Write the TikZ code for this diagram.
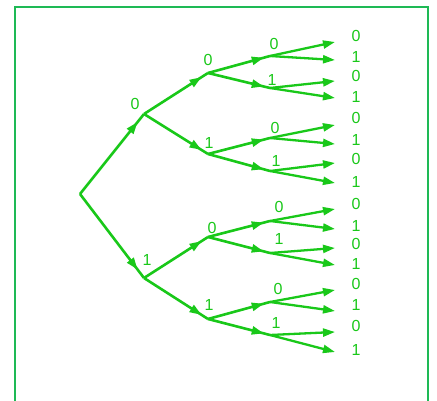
\documentclass[tikz,border=0pt]{standalone}
\usepackage{fontspec}
\setmainfont{Liberation Sans}
\usetikzlibrary{arrows.meta,decorations.markings}
\definecolor{treegreen}{RGB}{25,200,25}
\definecolor{boxgreen}{RGB}{30,185,85}
\begin{document}
\begin{tikzpicture}[x=1pt,y=-1pt,
  branch/.style={treegreen,line width=2.6pt,postaction={decorate},
    decoration={markings,mark=at position .9 with {\arrow{Triangle[length=12pt,width=8pt]}}}},
  leaf/.style={treegreen,line width=2.3pt,-{Triangle[length=12pt,width=8pt]}},
  bit/.style={text=treegreen,inner sep=0pt,font=\fontsize{16}{18}\selectfont}]
\path[use as bounding box] (0,0) rectangle (437,401);
\draw[boxgreen,line width=2.4pt] (15,420)--(15,7)--(428,7)--(428,420);
% nodes of the tree
\coordinate (r) at (80,194);
\coordinate (a0) at (144,114);
\coordinate (a1) at (144,278);
\coordinate (b00) at (208,73);
\coordinate (b01) at (208,154);
\coordinate (b10) at (208,237);
\coordinate (b11) at (208,319);
\coordinate (c000) at (270,56);
\coordinate (c001) at (270,88);
\coordinate (c010) at (270,138);
\coordinate (c011) at (270,171);
\coordinate (c100) at (270,221);
\coordinate (c101) at (270,253);
\coordinate (c110) at (270,302);
\coordinate (c111) at (270,335);
\foreach \n/\y in {1/42,2/60,3/81,4/98,5/125,6/144,7/163,8/183,9/209,10/229,11/248,12/265,13/290,14/311,15/332,16/352}
  \coordinate (l\n) at (335,\y);
% branches
\draw[branch] (r)--(a0);
\draw[branch] (r)--(a1);
\draw[branch] (a0)--(b00);
\draw[branch] (a0)--(b01);
\draw[branch] (a1)--(b10);
\draw[branch] (a1)--(b11);
\draw[branch] (b00)--(c000);
\draw[branch] (b00)--(c001);
\draw[branch] (b01)--(c010);
\draw[branch] (b01)--(c011);
\draw[branch] (b10)--(c100);
\draw[branch] (b10)--(c101);
\draw[branch] (b11)--(c110);
\draw[branch] (b11)--(c111);
\draw[leaf] (c000)--(l1);
\draw[leaf] (c000)--(l2);
\draw[leaf] (c001)--(l3);
\draw[leaf] (c001)--(l4);
\draw[leaf] (c010)--(l5);
\draw[leaf] (c010)--(l6);
\draw[leaf] (c011)--(l7);
\draw[leaf] (c011)--(l8);
\draw[leaf] (c100)--(l9);
\draw[leaf] (c100)--(l10);
\draw[leaf] (c101)--(l11);
\draw[leaf] (c101)--(l12);
\draw[leaf] (c110)--(l13);
\draw[leaf] (c110)--(l14);
\draw[leaf] (c111)--(l15);
\draw[leaf] (c111)--(l16);
% labels
\node[bit] (ta0) at (135,104) {0};
\node[bit] (ta1) at (147,260) {1};
\node[bit] (tb00) at (208,60) {0};
\node[bit] (tb01) at (209,143) {1};
\node[bit] (tb10) at (212,228) {0};
\node[bit] (tb11) at (209,305) {1};
\node[bit] (tc000) at (274,44) {0};
\node[bit] (tc001) at (272,80) {1};
\node[bit] (tc010) at (275,128) {0};
\node[bit] (tc011) at (276,161) {1};
\node[bit] (tc100) at (279,207) {0};
\node[bit] (tc101) at (279,239) {1};
\node[bit] (tc110) at (278,289) {0};
\node[bit] (tc111) at (276,323) {1};
\foreach \n/\y/\b in {1/36/0,2/57/1,3/76/0,4/97/1,5/118/0,6/140/1,7/159/0,8/182/1,9/204/0,10/226/1,11/244/0,12/264/1,13/284/0,14/305/1,15/326/0,16/350/1}
  \node[bit] (tl\n) at (356,\y) {\b};
\end{tikzpicture}
\end{document}
